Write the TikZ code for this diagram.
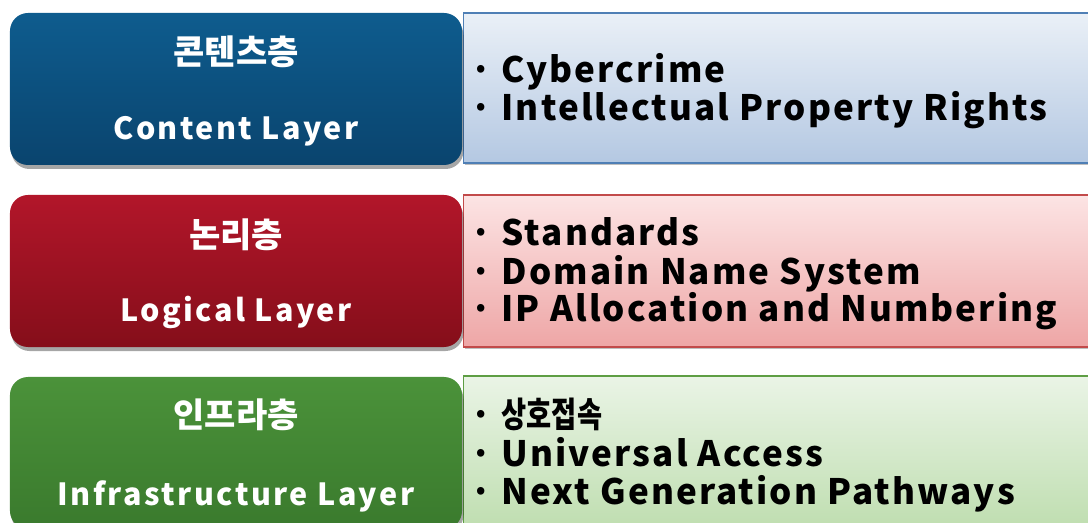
\documentclass[tikz,border=0pt]{standalone}
\usepackage{fontspec}
\newfontfamily\kr{Noto Sans CJK KR}
\newfontfamily\krlab{Noto Sans CJK KR}[LetterSpace=8]
\newfontfamily\kritem{Noto Sans CJK KR}[LetterSpace=6]
\usetikzlibrary{shadows}
\definecolor{blueT}{HTML}{0E5C8E}
\definecolor{blueB}{HTML}{0A446E}
\definecolor{redT}{HTML}{B2162A}
\definecolor{redB}{HTML}{850E1A}
\definecolor{greenT}{HTML}{4B923A}
\definecolor{greenB}{HTML}{3A7A2D}
\definecolor{lblueT}{HTML}{EAF0F7}
\definecolor{lblueB}{HTML}{B4C8E2}
\definecolor{lredT}{HTML}{FCE4E4}
\definecolor{lredB}{HTML}{EEA6A6}
\definecolor{lgreenT}{HTML}{EAF4E6}
\definecolor{lgreenB}{HTML}{BFDEB0}
\definecolor{blueE}{HTML}{4F7FB5}
\definecolor{redE}{HTML}{C24A4A}
\definecolor{greenE}{HTML}{5E9E44}
\begin{document}
\begin{tikzpicture}[x=1bp,y=-1bp,
  layerbox/.style={rectangle, rounded corners=18bp, minimum width=452bp, minimum height=152bp, inner sep=0pt,
    drop shadow={shadow xshift=1.5bp, shadow yshift=-4bp, opacity=0.35, fill=black}},
  itembox/.style={rectangle, minimum width=640bp, inner sep=0pt, anchor=west, line width=1.2bp,
    drop shadow={shadow xshift=1bp, shadow yshift=-2bp, opacity=0.25, fill=black}},
  krtitle/.style={text=white, font=\kr\bfseries\fontsize{34bp}{40bp}\selectfont},
  entitle/.style={text=white, anchor=base, font=\krlab\bfseries\fontsize{30.5bp}{36bp}\selectfont},
  item/.style={text=black, anchor=base west, inner sep=0pt, font=\kritem\bfseries\fontsize{35bp}{40bp}\selectfont}
]
\useasboundingbox (0,0) rectangle (1088,523);
% right boxes first
\node[itembox, minimum height=150bp, draw=blueE, top color=lblueT, bottom color=lblueB] (r1) at (463,88) {};
\node[itembox, minimum height=152bp, draw=redE, top color=lredT, bottom color=lredB] (r2) at (463,271) {};
\node[itembox, minimum height=152bp, draw=greenE, top color=lgreenT, bottom color=lgreenB] (r3) at (463,452) {};
% left boxes
\node[layerbox, top color=blueT, bottom color=blueB] (l1) at (236,89) {};
\node[layerbox, top color=redT, bottom color=redB] (l2) at (236,271) {};
\node[layerbox, top color=greenT, bottom color=greenB] (l3) at (236,453) {};
% left labels
\node[krtitle] (k1) at (236,52) {콘텐츠층};
\node[entitle] (e1) at (236,140) {Content Layer};
\node[krtitle] (k2) at (236,235) {논리층};
\node[entitle] (e2) at (236,322) {Logical Layer};
\node[krtitle] (k3) at (236,415) {인프라층};
\node[entitle] (e3) at (236,505) {Infrastructure Layer};
% items
\node[item] (a1) at (470,83) {· Cybercrime};
\node[item] (a2) at (470,121) {· Intellectual Property Rights};
\node[item] (b1) at (470,246) {· Standards};
\node[item] (b2) at (470,285) {· Domain Name System};
\node[item] (b3) at (470,322) {· IP Allocation and Numbering};
\node[item] (c1) at (470,427) {· \scalebox{0.78}[1]{\kr\bfseries 상호접속}};
\node[item] (c2) at (470,466) {· Universal Access};
\node[item] (c3) at (470,504) {· Next Generation Pathways};
\end{tikzpicture}
\end{document}
